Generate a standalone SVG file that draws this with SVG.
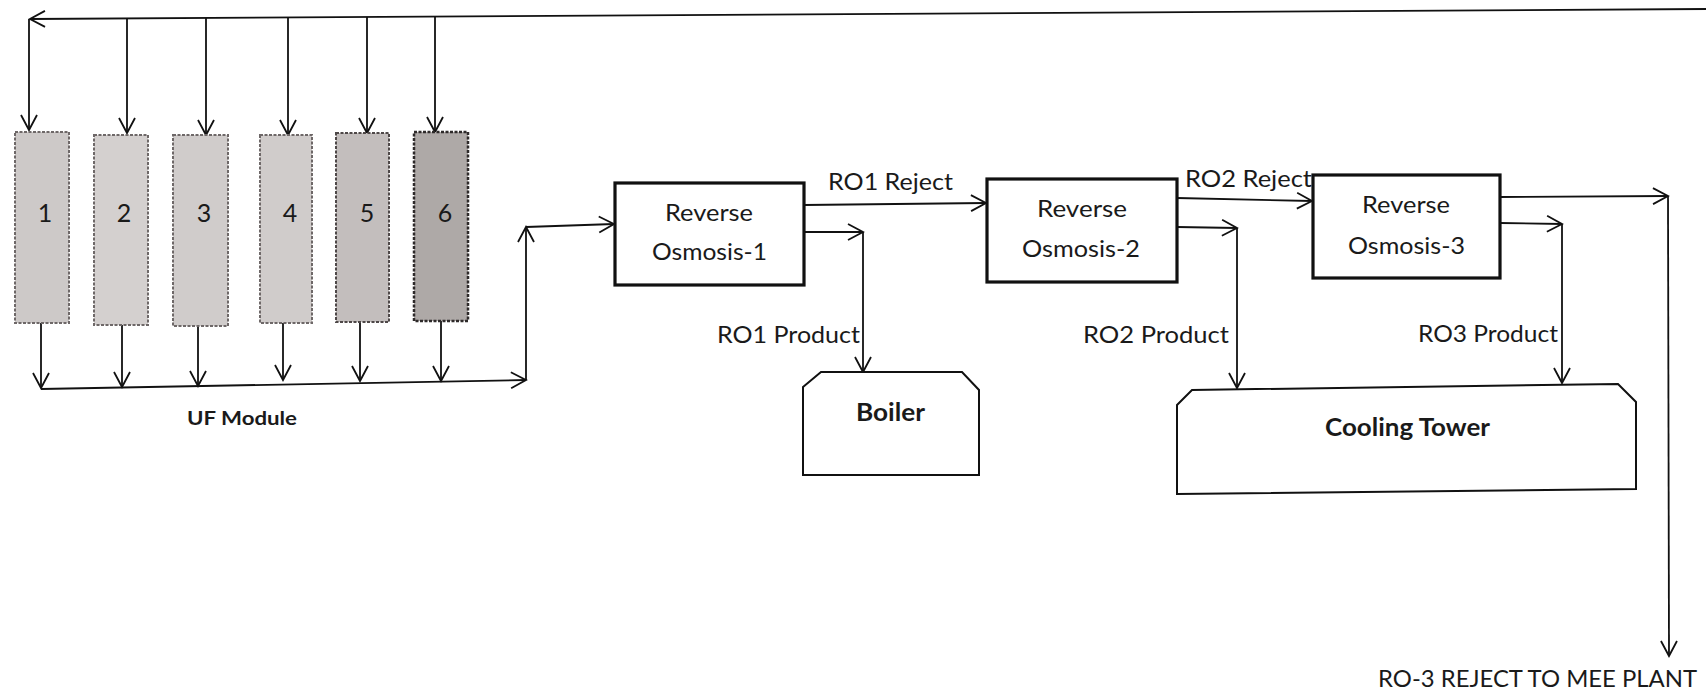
<svg xmlns="http://www.w3.org/2000/svg" width="1706" height="692" viewBox="0 0 1706 692">
<style>
.ln{stroke:#111;stroke-width:1.8;fill:none;marker-end:url(#ah)}
.box{fill:#fff;stroke:#111;stroke-width:3.2}
.tank{fill:#fff;stroke:#111;stroke-width:2}
.mod{stroke:#6e6868;stroke-width:2;stroke-dasharray:3 1.5}
.t{font-family:Lato,"Liberation Sans",Arial,sans-serif;font-size:24px;fill:#1a1a1a}
.b{font-family:Lato,"Liberation Sans",Arial,sans-serif;font-weight:bold;fill:#1a1a1a}
.num{font-family:Lato,"Liberation Sans",Arial,sans-serif;font-size:25px;fill:#1a1a1a;text-anchor:middle}
</style>
<defs>
<marker id="ah" markerUnits="userSpaceOnUse" markerWidth="24" markerHeight="24" viewBox="-18 -12 20 24" refX="0" refY="0" orient="auto">
<path d="M-15,-8 L0,0 L-15,8" fill="none" stroke="#111" stroke-width="1.8"/>
</marker>
</defs>
<rect width="1706" height="692" fill="#fff"/>

<g id="connectors">
<line class="ln" x1="1706" y1="9" x2="30" y2="19"/>
<line class="ln" x1="29" y1="19" x2="29" y2="130"/>
<line class="ln" x1="127" y1="18" x2="127" y2="133"/>
<line class="ln" x1="206" y1="18" x2="206" y2="135"/>
<line class="ln" x1="288" y1="17" x2="288" y2="135"/>
<line class="ln" x1="367" y1="17" x2="367" y2="133"/>
<line class="ln" x1="435" y1="16" x2="435" y2="132"/>
<line class="ln" x1="41" y1="323" x2="41" y2="388"/>
<line class="ln" x1="122" y1="325" x2="122" y2="387"/>
<line class="ln" x1="198" y1="326" x2="198" y2="386"/>
<line class="ln" x1="283" y1="323" x2="283" y2="380"/>
<line class="ln" x1="360" y1="322" x2="360" y2="381"/>
<line class="ln" x1="441" y1="321" x2="441" y2="381"/>
<line class="ln" x1="41" y1="389" x2="526" y2="380"/>
<line class="ln" x1="526" y1="380" x2="526" y2="227"/>
<line class="ln" x1="526" y1="227" x2="614" y2="224"/>
<line class="ln" x1="804" y1="205" x2="986" y2="203"/>
<line class="ln" x1="804" y1="232" x2="863" y2="232"/>
<line class="ln" x1="863" y1="232" x2="863" y2="372"/>
<line class="ln" x1="1177" y1="198" x2="1312" y2="201"/>
<line class="ln" x1="1177" y1="227" x2="1237" y2="228"/>
<line class="ln" x1="1237" y1="228" x2="1237" y2="388"/>
<line class="ln" x1="1500" y1="197" x2="1668" y2="196"/>
<line class="ln" x1="1668" y1="196" x2="1669" y2="656"/>
<line class="ln" x1="1500" y1="223" x2="1562" y2="224"/>
<line class="ln" x1="1562" y1="224" x2="1562" y2="383"/>
</g>

<g id="uf-module-1"><rect class="mod" x="15" y="132" width="54" height="191" fill="#cdc9c8"/><text class="num" x="45" y="222">1</text></g>
<g id="uf-module-2"><rect class="mod" x="94" y="135" width="54" height="190" fill="#d4d0cf"/><text class="num" x="124" y="222">2</text></g>
<g id="uf-module-3"><rect class="mod" x="173" y="135" width="55" height="191" fill="#d0cccb"/><text class="num" x="204" y="222">3</text></g>
<g id="uf-module-4"><rect class="mod" x="260" y="135" width="52" height="188" fill="#d0cccb"/><text class="num" x="290" y="222">4</text></g>
<g id="uf-module-5"><rect class="mod" x="336" y="133" width="53" height="189" fill="#c3bebd" style="stroke:#4e4848"/><text class="num" x="367" y="222">5</text></g>
<g id="uf-module-6"><rect class="mod" x="414" y="132" width="54" height="189" fill="#aea9a7" style="stroke:#2e2a2a;stroke-width:2.5"/><text class="num" x="445" y="222">6</text></g>
<g id="uf-label"><text class="b" x="187" y="425" font-size="19" textLength="110" lengthAdjust="spacingAndGlyphs">UF Module</text></g>

<g id="ro1"><rect class="box" x="615" y="183" width="189" height="102"/>
<text class="t" x="665" y="221" textLength="88" lengthAdjust="spacingAndGlyphs">Reverse</text>
<text class="t" x="652" y="260" textLength="115" lengthAdjust="spacingAndGlyphs">Osmosis-1</text></g>
<g id="ro2"><rect class="box" x="987" y="179" width="190" height="103"/>
<text class="t" x="1037" y="217" textLength="90" lengthAdjust="spacingAndGlyphs">Reverse</text>
<text class="t" x="1022" y="257" textLength="118" lengthAdjust="spacingAndGlyphs">Osmosis-2</text></g>
<g id="ro3"><rect class="box" x="1313" y="175" width="187" height="103"/>
<text class="t" x="1362" y="213" textLength="88" lengthAdjust="spacingAndGlyphs">Reverse</text>
<text class="t" x="1348" y="254" textLength="117" lengthAdjust="spacingAndGlyphs">Osmosis-3</text></g>

<g id="boiler"><path class="tank" d="M803,387 L821,372 L962,372 L979,390 L979,475 L803,475 Z"/>
<text class="b" x="856" y="421" font-size="24" textLength="69" lengthAdjust="spacingAndGlyphs">Boiler</text></g>
<g id="cooling-tower"><path class="tank" d="M1177,405 L1192,390 L1618,384 L1636,402 L1636,489 L1177,494 Z"/>
<text class="b" x="1325" y="436" font-size="24" textLength="165" lengthAdjust="spacingAndGlyphs">Cooling Tower</text></g>

<g id="labels">
<text class="t" x="828" y="190" textLength="125" lengthAdjust="spacingAndGlyphs">RO1 Reject</text>
<text class="t" x="717" y="343" textLength="143" lengthAdjust="spacingAndGlyphs">RO1 Product</text>
<text class="t" x="1185" y="187" textLength="127" lengthAdjust="spacingAndGlyphs">RO2 Reject</text>
<text class="t" x="1083" y="343" textLength="146" lengthAdjust="spacingAndGlyphs">RO2 Product</text>
<text class="t" x="1418" y="342" textLength="140" lengthAdjust="spacingAndGlyphs">RO3 Product</text>
<text class="t" x="1378" y="687" font-size="26" textLength="319" lengthAdjust="spacingAndGlyphs">RO-3 REJECT TO MEE PLANT</text>
</g>
</svg>
